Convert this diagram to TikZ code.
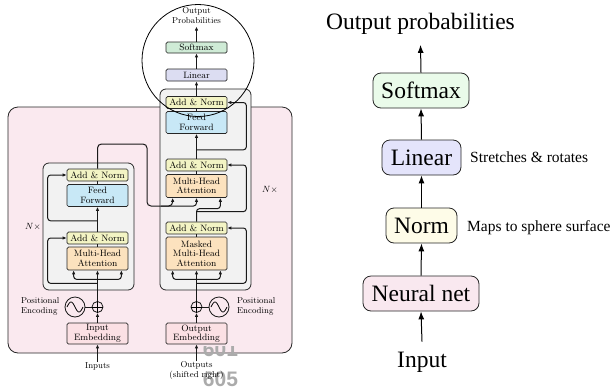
\documentclass[tikz,border=0pt]{standalone}
\usepackage{fontspec}
\newfontfamily\rfont{Liberation Serif}
\newfontfamily\gfont{Liberation Sans}
\usetikzlibrary{arrows.meta,calc}
\definecolor{pinkbg}{RGB}{250,233,239}
\definecolor{graybg}{RGB}{242,242,242}
\definecolor{cAN}{RGB}{243,244,196}
\definecolor{cFF}{RGB}{200,232,246}
\definecolor{cMHA}{RGB}{252,226,190}
\definecolor{cEmb}{RGB}{251,224,228}
\definecolor{cLin}{RGB}{220,221,242}
\definecolor{cSoft}{RGB}{207,235,214}
\definecolor{rSoft}{RGB}{234,251,234}
\definecolor{rLin}{RGB}{228,228,251}
\definecolor{rNorm}{RGB}{254,252,232}
\definecolor{rNN}{RGB}{249,232,239}
\begin{document}
\begin{tikzpicture}[x=1pt,y=-1pt,
  small/.style={font=\fontsize{8.6}{9.5}\selectfont, align=center, inner sep=0pt},
  blk/.style={draw=black!85, line width=0.7pt, rounded corners=1.5pt, minimum width=61pt, inner sep=0pt, align=center, font=\fontsize{9.2}{9.6}\selectfont},
  an/.style={blk, fill=cAN, minimum height=12pt},
  ff/.style={blk, fill=cFF, minimum height=22pt},
  mha/.style={blk, fill=cMHA, minimum height=23pt},
  emb/.style={blk, fill=cEmb, minimum height=21pt},
  bgbox/.style={draw=black!85, line width=0.8pt, rounded corners=6pt},
  con/.style={line width=1pt, draw=black!90},
  arr/.style={con, -{Latex[length=4pt,width=3.5pt]}},
  oplus/.style={draw=black!90, circle, line width=0.8pt, minimum size=11pt, inner sep=0pt},
  sinc/.style={draw=black!90, circle, line width=0.8pt, minimum size=20pt, inner sep=0pt},
  rbox/.style={draw=black!85, line width=0.8pt, rounded corners=8pt, minimum height=35pt, inner sep=0pt, font=\rfont\fontsize{23.5}{28}\selectfont},
  rtext/.style={inner sep=0pt, font=\rfont\fontsize{23.5}{28}\selectfont},
  rside/.style={inner sep=0pt, anchor=west, font=\rfont\fontsize{15.5}{18}\selectfont},
  rarr/.style={line width=1pt, -{Latex[length=8pt,width=6pt]}},
  lineno/.style={inner sep=0pt, text=black!33, font=\gfont\bfseries\fontsize{21}{24}\selectfont}
]
\useasboundingbox (0,0) rectangle (613,389);

% line numbers (artifacts)
\node[lineno] (ln605) at (220.5,379.5) {605};

% backgrounds
\draw[bgbox, fill=pinkbg, rounded corners=10pt] (8,107) rectangle (292,353);
\begin{scope}
\clip (190,346) rectangle (250,362);
\node[lineno] (ln601) at (220.5,349) {601};
\end{scope}
\draw[bgbox, fill=graybg] (43,163) rectangle (134,290);
\draw[bgbox, fill=graybg] (160,89) rectangle (251,290);

% encoder
\node[an]  (eAN2) at (97.5,175)   {Add \& Norm};
\node[ff]  (eFF)  at (97.5,195.5) {Feed\\Forward};
\node[an]  (eAN1) at (97.5,238)   {Add \& Norm};
\node[mha] (eMHA) at (97.5,258.5) {Multi-Head\\Attention};
\node[oplus] (ePlus) at (97.5,307) {};
\node[sinc]  (eSin)  at (75,307) {};
\node[emb] (eEmb) at (97.5,333.5) {Input\\Embedding};
\node[small] (inputs) at (97.5,366) {Inputs};
\node[small, anchor=west, align=left] (ePE) at (21,306.5) {Positional\\Encoding};
\node[small] (eN) at (33,227) {$N\times$};

% decoder
\node[blk, fill=cSoft, minimum height=11pt] (dSoft) at (196.5,47.5) {Softmax};
\node[blk, fill=cLin, minimum height=12pt] (dLin) at (196.5,75) {Linear};
\node[an]  (dAN3) at (196.5,102.5) {Add \& Norm};
\node[ff]  (dFF)  at (196.5,122.5) {Feed\\Forward};
\node[an]  (dAN2) at (196.5,165)   {Add \& Norm};
\node[mha] (dMHA) at (196.5,186)   {Multi-Head\\Attention};
\node[an]  (dAN1) at (196.5,228)   {Add \& Norm};
\node[blk, fill=cMHA, minimum height=33pt] (dMMHA) at (196.5,253.5) {Masked\\Multi-Head\\Attention};
\node[oplus] (dPlus) at (196.5,307) {};
\node[sinc]  (dSin)  at (219,307) {};
\node[emb] (dEmb) at (196.5,333.5) {Output\\Embedding};
\node[small] (outs) at (196.5,370.5) {Outputs\\(shifted right)};
\node[small, anchor=west, align=left] (dPE) at (237,306.5) {Positional\\Encoding};
\node[small] (dN) at (270,190) {$N\times$};
\node[small] (oprob) at (196.5,15.5) {Output\\Probabilities};

% plus signs and sine waves
\draw[line width=0.8pt] (ePlus.north) -- (ePlus.south) (ePlus.west) -- (ePlus.east);
\draw[line width=0.8pt] (dPlus.north) -- (dPlus.south) (dPlus.west) -- (dPlus.east);
\draw[line width=0.8pt, shift={(eSin.center)}] plot[domain=-8:8, samples=41, smooth] (\x, {5*sin(\x*22.5)});
\draw[line width=0.8pt, shift={(dSin.center)}] plot[domain=-8:8, samples=41, smooth] (\x, {5*sin(\x*22.5)});

% encoder connectors
\draw[arr] (inputs.north) -- (eEmb.south);
\draw[arr] (eEmb.north) -- (ePlus.south);
\draw[con] (eSin.east) -- (ePlus.west);
\draw[arr] (ePlus.north) -- (eMHA.south);
\draw[arr, rounded corners=3pt] ($(eMHA.south)+(0,9)$) -| ($(eMHA.south west)+(7,0)$);
\draw[arr, rounded corners=3pt] ($(eMHA.south)+(0,9)$) -| ($(eMHA.south east)+(-7,0)$);
\draw[arr, rounded corners=3pt] ($(eMHA.south)+(0,13)$) -| ($(eAN1.west)+(-19,0)$) -- (eAN1.west);
\draw[con] (eMHA.north) -- (eAN1.south);
\draw[arr] (eAN1.north) -- (eFF.south);
\draw[arr, rounded corners=3pt] ($(eFF.south)+(0,14)$) -| ($(eAN2.west)+(-19,0)$) -- (eAN2.west);
\draw[con] (eFF.north) -- (eAN2.south);
\coordinate (eo1) at (147,144);
\coordinate (eo2) at (147,206);
\draw[arr, rounded corners=4pt] (eAN2.north) |- (eo1) -- (eo2) -| ($(dMHA.south west)+(7,0)$);
\draw[arr, rounded corners=3pt] ($(eo2)+(14,0)$) -| (dMHA.south);

% decoder connectors
\draw[arr] (outs.north) -- (dEmb.south);
\draw[arr] (dEmb.north) -- (dPlus.south);
\draw[con] (dSin.west) -- (dPlus.east);
\draw[arr] (dPlus.north) -- (dMMHA.south);
\draw[arr, rounded corners=3pt] ($(dMMHA.south)+(0,9)$) -| ($(dMMHA.south west)+(7,0)$);
\draw[arr, rounded corners=3pt] ($(dMMHA.south)+(0,9)$) -| ($(dMMHA.south east)+(-7,0)$);
\draw[arr, rounded corners=3pt] ($(dMMHA.south)+(0,13)$) -| ($(dAN1.east)+(19,0)$) -- (dAN1.east);
\draw[con] (dMMHA.north) -- (dAN1.south);
\draw[arr, rounded corners=3pt] (dAN1.north) -- ++(0,-13) -| ($(dMHA.south east)+(-7,0)$);
\draw[arr, rounded corners=3pt] ($(dAN1.north)+(0,-10)$) -| ($(dAN2.east)+(19,0)$) -- (dAN2.east);
\draw[con] (dMHA.north) -- (dAN2.south);
\draw[arr] (dAN2.north) -- (dFF.south);
\draw[arr, rounded corners=3pt] ($(dFF.south)+(0,16)$) -| ($(dAN3.east)+(19,0)$) -- (dAN3.east);
\draw[con] (dFF.north) -- (dAN3.south);
\draw[arr] (dAN3.north) -- (dLin.south);
\draw[arr] (dLin.north) -- (dSoft.south);
\draw[arr] (dSoft.north) -- ($(oprob.south)+(0,3)$);

% magnifying circle
\draw[line width=0.8pt] (198,60.5) circle[radius=56pt];

% right diagram
\node[rtext] (outp) at (420.5,24) {Output probabilities};
\node[rbox, fill=rSoft, minimum width=96pt] (rsoft) at (421,90.5) {Softmax};
\node[rbox, fill=rLin, minimum width=79pt] (rlin) at (421.5,157.5) {Linear};
\node[rbox, fill=rNorm, minimum width=71pt] (rnorm) at (421.5,225.5) {Norm};
\node[rbox, fill=rNN, minimum width=116pt] (rnn) at (421,293.5) {Neural net};
\node[rtext] (rin) at (422,362) {Input};
\node[rside] (rs1) at (470,157) {Stretches \& rotates};
\node[rside] (rs2) at (467,228) {Maps to sphere surface};

\draw[rarr] ($(rin.north)+(0,-10)$) -- (rnn.south);
\draw[rarr] (rnn.north) -- (rnorm.south);
\draw[rarr] (rnorm.north) -- (rlin.south);
\draw[rarr] (rlin.north) -- (rsoft.south);
\draw[rarr] (rsoft.north) -- ($(outp.south)+(0,10)$);
\end{tikzpicture}
\end{document}
